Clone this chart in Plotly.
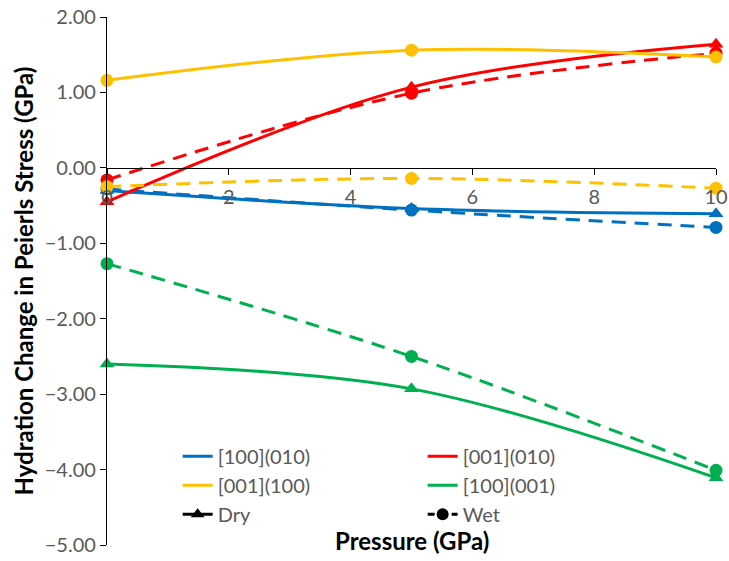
import plotly.graph_objects as go

# Pressure steps (GPa)
pressure = [0, 5, 10]

# Hydration change in Peierls stress (GPa), dry runs
dry_100_010 = [-0.30, -0.54, -0.61]
dry_001_010 = [-0.45, 1.07, 1.64]
dry_001_100 = [1.16, 1.56, 1.47]
dry_100_001 = [-2.60, -2.93, -4.11]

# Hydration change in Peierls stress (GPa), wet runs
wet_100_010 = [-0.28, -0.56, -0.79]
wet_001_010 = [-0.16, 0.99, 1.52]
wet_001_100 = [-0.25, -0.14, -0.27]
wet_100_001 = [-1.27, -2.50, -4.01]

systems = ["[100](010)", "[001](010)", "[001](100)", "[100](001)"]
colors = ["#0070C0", "#FF0000", "#FFC000", "#00B050"]
dry_series = [dry_100_010, dry_001_010, dry_001_100, dry_100_001]
wet_series = [wet_100_010, wet_001_010, wet_001_100, wet_100_001]
dry_symbols = ["triangle-up", "triangle-up", "circle", "triangle-up"]

y_ticks = [2, 1, 0, -1, -2, -3, -4, -5]
x_ticks = [0, 2, 4, 6, 8, 10]

FONT = "Lato"
GREY = "#595959"
WET_DASH = "14px,9px"

fig = go.Figure()

for name, col, dry, wet, sym in zip(systems, colors, dry_series, wet_series, dry_symbols):
    fig.add_trace(go.Scatter(
        x=pressure, y=wet, mode="lines+markers", showlegend=False,
        line=dict(color=col, width=3, dash=WET_DASH, shape="spline", smoothing=1),
        marker=dict(symbol="circle", size=13, color=col),
        cliponaxis=False,
    ))
    fig.add_trace(go.Scatter(
        x=pressure, y=dry, mode="lines+markers", showlegend=False,
        line=dict(color=col, width=3, shape="spline", smoothing=1),
        marker=dict(symbol=sym, size=13, color=col),
        cliponaxis=False,
    ))

# Legend entries
for name, col in zip(systems, colors):
    fig.add_trace(go.Scatter(
        x=[None], y=[None], mode="lines", name=name,
        line=dict(color=col, width=3),
    ))
fig.add_trace(go.Scatter(
    x=[None], y=[None], mode="lines+markers", name="Dry",
    line=dict(color="black", width=3),
    marker=dict(symbol="triangle-up", size=12, color="black"),
))
fig.add_trace(go.Scatter(
    x=[None], y=[None], mode="lines+markers", name="Wet",
    line=dict(color="black", width=3, dash="7px,5px"),
    marker=dict(symbol="circle", size=12, color="black"),
))

fig.update_layout(
    width=729, height=561,
    margin=dict(l=107, r=13, t=17, b=16, autoexpand=False),
    paper_bgcolor="white", plot_bgcolor="white",
    font=dict(family=FONT, size=20, color=GREY),
    xaxis=dict(
        range=[0, 10], tickvals=x_ticks, showgrid=False, zeroline=False,
        showline=True, linecolor="black", linewidth=1.3,
        ticks="outside", ticklen=6, tickcolor="black",
        anchor="free", position=5 / 7, ticklabelstandoff=5,
        tickfont=dict(family=FONT, size=20, color=GREY),
    ),
    yaxis=dict(
        range=[-5, 2], tickvals=y_ticks, tickformat=".2f", showgrid=False,
        zeroline=False, showline=True, linecolor="black", linewidth=1.3,
        ticks="outside", ticklen=6, tickcolor="black",
        tickfont=dict(family=FONT, size=20, color=GREY),
        title=dict(text="<b>Hydration Change in Peierls Stress (GPa)</b>",
                   font=dict(family=FONT, size=24, color="black"), standoff=4),
    ),
    legend=dict(
        orientation="h", x=0.116, y=0.205, xanchor="left", yanchor="top",
        entrywidth=200, entrywidthmode="pixels",
        font=dict(family=FONT, size=20, color=GREY),
        bgcolor="rgba(0,0,0,0)", tracegroupgap=0,
    ),
    annotations=[dict(
        text="<b>Pressure (GPa)</b>", x=0.5, y=0.008, xref="paper", yref="paper",
        xanchor="center", yanchor="middle", showarrow=False,
        font=dict(family=FONT, size=24, color="black"),
    )],
)

fig.write_html("out.html")
